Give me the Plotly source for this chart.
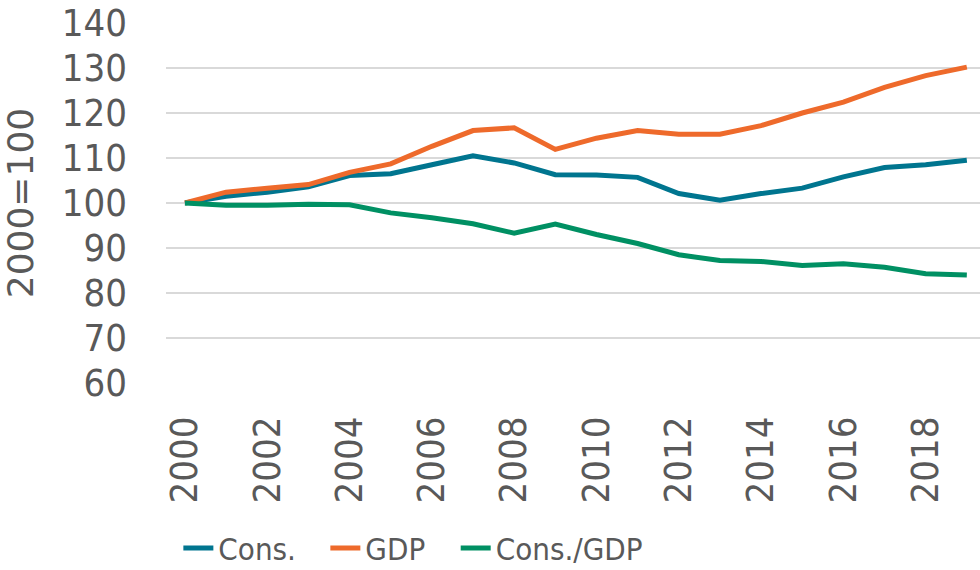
import plotly.graph_objects as go

years = list(range(2000, 2020))
cons = [100, 101.5, 102.4, 103.6, 106.1, 106.5, 108.5, 110.5, 108.9, 106.3,
        106.2, 105.7, 102.1, 100.6, 102.1, 103.3, 105.8, 107.9, 108.5, 109.5]
gdp = [100, 102.4, 103.3, 104.1, 106.8, 108.7, 112.6, 116.1, 116.7, 111.9,
       114.4, 116.1, 115.3, 115.3, 117.2, 120.0, 122.4, 125.7, 128.3, 130.2]
ratio = [100, 99.5, 99.5, 99.7, 99.6, 97.8, 96.7, 95.4, 93.3, 95.3,
         93.0, 91.0, 88.5, 87.2, 87.0, 86.1, 86.5, 85.7, 84.3, 84.0]
series_names = ["Cons.", "GDP", "Cons./GDP"]
colors = ["#00758F", "#EE6A2B", "#009063"]
x_ticks = list(range(2000, 2019, 2))
y_ticks = list(range(60, 141, 10))

FONT = "DejaVu Sans Condensed, Liberation Sans Narrow, DejaVu Sans, sans-serif"
FONT_REG = "DejaVu Sans, sans-serif"
TXT = "#595959"

fig = go.Figure()
legends = ["legend", "legend2", "legend3"]
for name, vals, col, lg in zip(series_names, [cons, gdp, ratio], colors, legends):
    fig.add_trace(go.Scatter(x=years, y=vals, mode="lines", name=name,
                             showlegend=True,
                             line=dict(color=col, width=5), legend=lg))

leg_common = dict(orientation="h", yanchor="middle", xanchor="left",
                  xref="container", yref="container", y=0.038,
                  font=dict(family=FONT, size=31, color=TXT),
                  bgcolor="rgba(0,0,0,0)", borderwidth=0)
fig.update_layout(
    width=980, height=570,
    showlegend=True,
    margin=dict(l=166, r=0, t=23, b=187, autoexpand=False),
    paper_bgcolor="white", plot_bgcolor="white",
    font=dict(family=FONT, color=TXT),
    legend=dict(x=0.182, **leg_common),
    legend2=dict(x=0.332, **leg_common),
    legend3=dict(x=0.465, **leg_common),
    xaxis=dict(range=[1999.54, 2019.32], tickvals=x_ticks,
               ticktext=[str(t) for t in x_ticks], tickangle=-90,
               showgrid=False, zeroline=False, showline=False,
               ticks="", ticklabelstandoff=25, automargin=False,
               tickfont=dict(family=FONT, size=38, color=TXT)),
    yaxis=dict(range=[60, 140], tickvals=y_ticks,
               showgrid=True, gridcolor="#D9D9D9", gridwidth=1.5,
               zeroline=False, showline=False, ticks="",
               ticklabelstandoff=38, automargin=False,
               tickfont=dict(family=FONT, size=38, color=TXT),
               title=dict(text="2000=100", standoff=28,
                          font=dict(family=FONT_REG, size=36, color=TXT))),
)

fig.write_html("out.html", config={"displayModeBar": False},
               post_script="document.body.style.margin='0';document.body.style.padding='0';")
